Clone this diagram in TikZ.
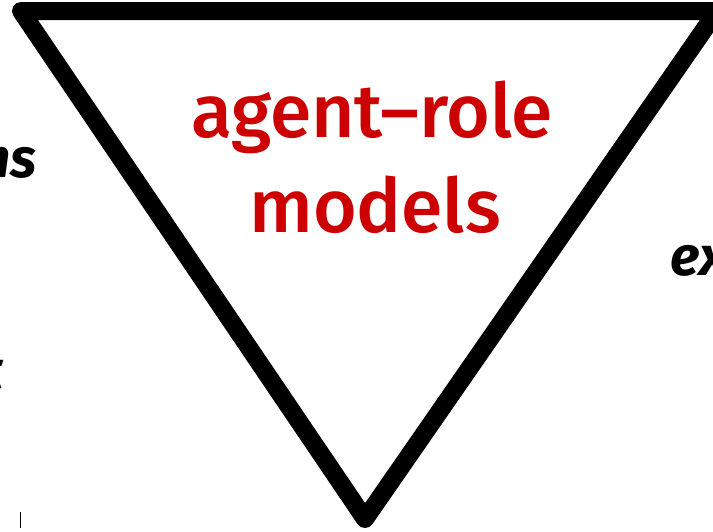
\documentclass[tikz,border=0pt]{standalone}
\usepackage{fontspec}
\setmainfont{Fira Sans}
\newfontfamily\rolefont{Fira Sans}[UprightFont=* Medium]
\usepackage{xcolor}
\usetikzlibrary{positioning}
\definecolor{rolered}{HTML}{CC0000}

\begin{document}
\begin{tikzpicture}[x=1pt, y=-1pt,
  role/.style={text=rolered, font=\rolefont\fontsize{75}{95}\selectfont, inner sep=0pt, anchor=base},
  side/.style={text=black, font=\bfseries\itshape\fontsize{55}{66}\selectfont, inner sep=0pt}]
\useasboundingbox (0,0) rectangle (713,531);
\clip (0,0) rectangle (713,531);
% ---------------- triangle
\coordinate (tl) at (21,11);
\coordinate (tr) at (717,11);
\coordinate (bt) at (365,519);
\draw[line width=18pt, line join=round] (tl) -- (tr) -- (bt) -- cycle;
\node[role] (role1) at (372,137) {agent–role};
\node[role] (role2) at (375,232) {models};
% ---------------- cut-off side labels
\node[side, anchor=base east] (lbl1) at (37,177) {ns};
\node[side, anchor=base west] (lbl2) at (670,275) {ex};
\node[side, anchor=base east] (lbl3) at (3,389) {t};
\coordinate (m1) at (20,512);
\coordinate (m2) at (20,528);
\draw[line width=1pt] (m1) -- (m2);
\end{tikzpicture}
\end{document}
